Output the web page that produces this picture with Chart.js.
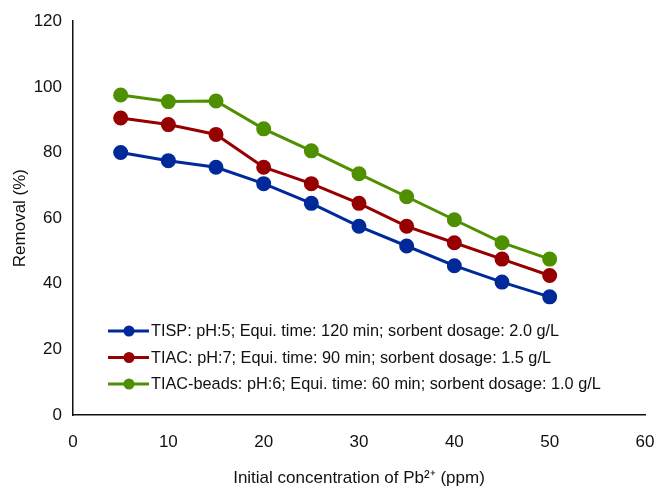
<!DOCTYPE html>
<html>
<head>
<meta charset="utf-8">
<script src="https://cdn.jsdelivr.net/npm/chart.js@4.4.0/dist/chart.umd.min.js"></script>
<style>
  html, body { margin: 0; padding: 0; background: #fff; }
  #wrap { width: 660px; height: 489px; }
</style>
</head>
<body>
<div id="wrap"><canvas id="chart" width="660" height="489"></canvas></div>
<script>
// Data
const concentrations = [5, 10, 15, 20, 25, 30, 35, 40, 45, 50];
const tispRemoval = [80, 77.5, 75.5, 70.5, 64.5, 57.5, 51.5, 45.5, 40.5, 36];
const tiacRemoval = [90.5, 88.5, 85.5, 75.5, 70.5, 64.5, 57.5, 52.5, 47.5, 42.5];
const beadsRemoval = [97.5, 95.5, 95.7, 87.2, 80.5, 73.5, 66.5, 59.5, 52.5, 47.5];
const seriesNames = [
    'TISP: pH:5; Equi. time: 120 min; sorbent dosage: 2.0 g/L',
    'TIAC: pH:7; Equi. time: 90 min; sorbent dosage: 1.5 g/L',
    'TIAC-beads: pH:6; Equi. time: 60 min; sorbent dosage: 1.0 g/L'
];
const seriesColors = ['#00299a', '#960000', '#4e9000'];

const font = 'Liberation Sans, Arial, Helvetica, sans-serif';

function toPoints(values) {
    return concentrations.map((c, i) => ({ x: c, y: values[i] }));
}

function makeDataset(label, values, color) {
    return {
        label: label,
        data: toPoints(values),
        borderColor: color,
        backgroundColor: color,
        pointBackgroundColor: color,
        pointBorderColor: color,
        borderWidth: 3,
        pointRadius: 6,
        pointHoverRadius: 6,
        tension: 0
    };
}

// Legend drawn inside the plot, bottom-left
const insideLegend = {
    id: 'insideLegend',
    afterDraw(chart) {
        const ctx = chart.ctx;
        const area = chart.chartArea;
        const x0 = area.left + 35;
        const rowGap = 26.5;
        const firstRow = area.bottom - 84;
        ctx.save();
        ctx.font = '16.3px ' + font;
        ctx.textBaseline = 'middle';
        ctx.textAlign = 'left';
        chart.data.datasets.forEach((ds, i) => {
            const y = firstRow + i * rowGap;
            ctx.strokeStyle = ds.borderColor;
            ctx.lineWidth = 3;
            ctx.beginPath();
            ctx.moveTo(x0, y);
            ctx.lineTo(x0 + 41, y);
            ctx.stroke();
            ctx.fillStyle = ds.borderColor;
            ctx.beginPath();
            ctx.arc(x0 + 21, y, 5.5, 0, Math.PI * 2);
            ctx.fill();
            ctx.fillStyle = '#111';
            ctx.fillText(ds.label, x0 + 43, y + 1);
        });
        ctx.restore();
    }
};

new Chart(document.getElementById('chart'), {
    type: 'line',
    data: {
        datasets: [
            makeDataset(seriesNames[0], tispRemoval, seriesColors[0]),
            makeDataset(seriesNames[1], tiacRemoval, seriesColors[1]),
            makeDataset(seriesNames[2], beadsRemoval, seriesColors[2])
        ]
    },
    options: {
        responsive: false,
        animation: false,
        layout: { padding: { top: 21, right: 15, left: 10, bottom: 0 } },
        plugins: {
            legend: { display: false },
            tooltip: { enabled: false }
        },
        scales: {
            x: {
                type: 'linear',
                min: 0,
                max: 60,
                ticks: { stepSize: 10, color: '#111', font: { family: font, size: 17 }, padding: 17 },
                grid: { display: false, drawTicks: false },
                border: { display: true, color: '#111', width: 1.5 },
                title: {
                    display: true,
                    text: 'Initial concentration of Pb\u00B2\u207A (ppm)',
                    color: '#111',
                    font: { family: font, size: 17 },
                    padding: { top: 8, bottom: 0 }
                },
                afterFit(scale) {
                    scale.height = 74;
                    scale.paddingLeft = 0;
                    scale.paddingRight = 0;
                }
            },
            y: {
                min: 0,
                max: 120,
                ticks: { stepSize: 20, color: '#111', font: { family: font, size: 17 }, padding: 11 },
                grid: { display: false, drawTicks: false },
                border: { display: true, color: '#111', width: 1.5 },
                title: {
                    display: true,
                    text: 'Removal (%)',
                    color: '#111',
                    font: { family: font, size: 17 },
                    padding: { top: 0, bottom: 4 }
                },
                afterFit(scale) { scale.width = 63; }
            }
        }
    },
    plugins: [insideLegend]
});
</script>
</body>
</html>
